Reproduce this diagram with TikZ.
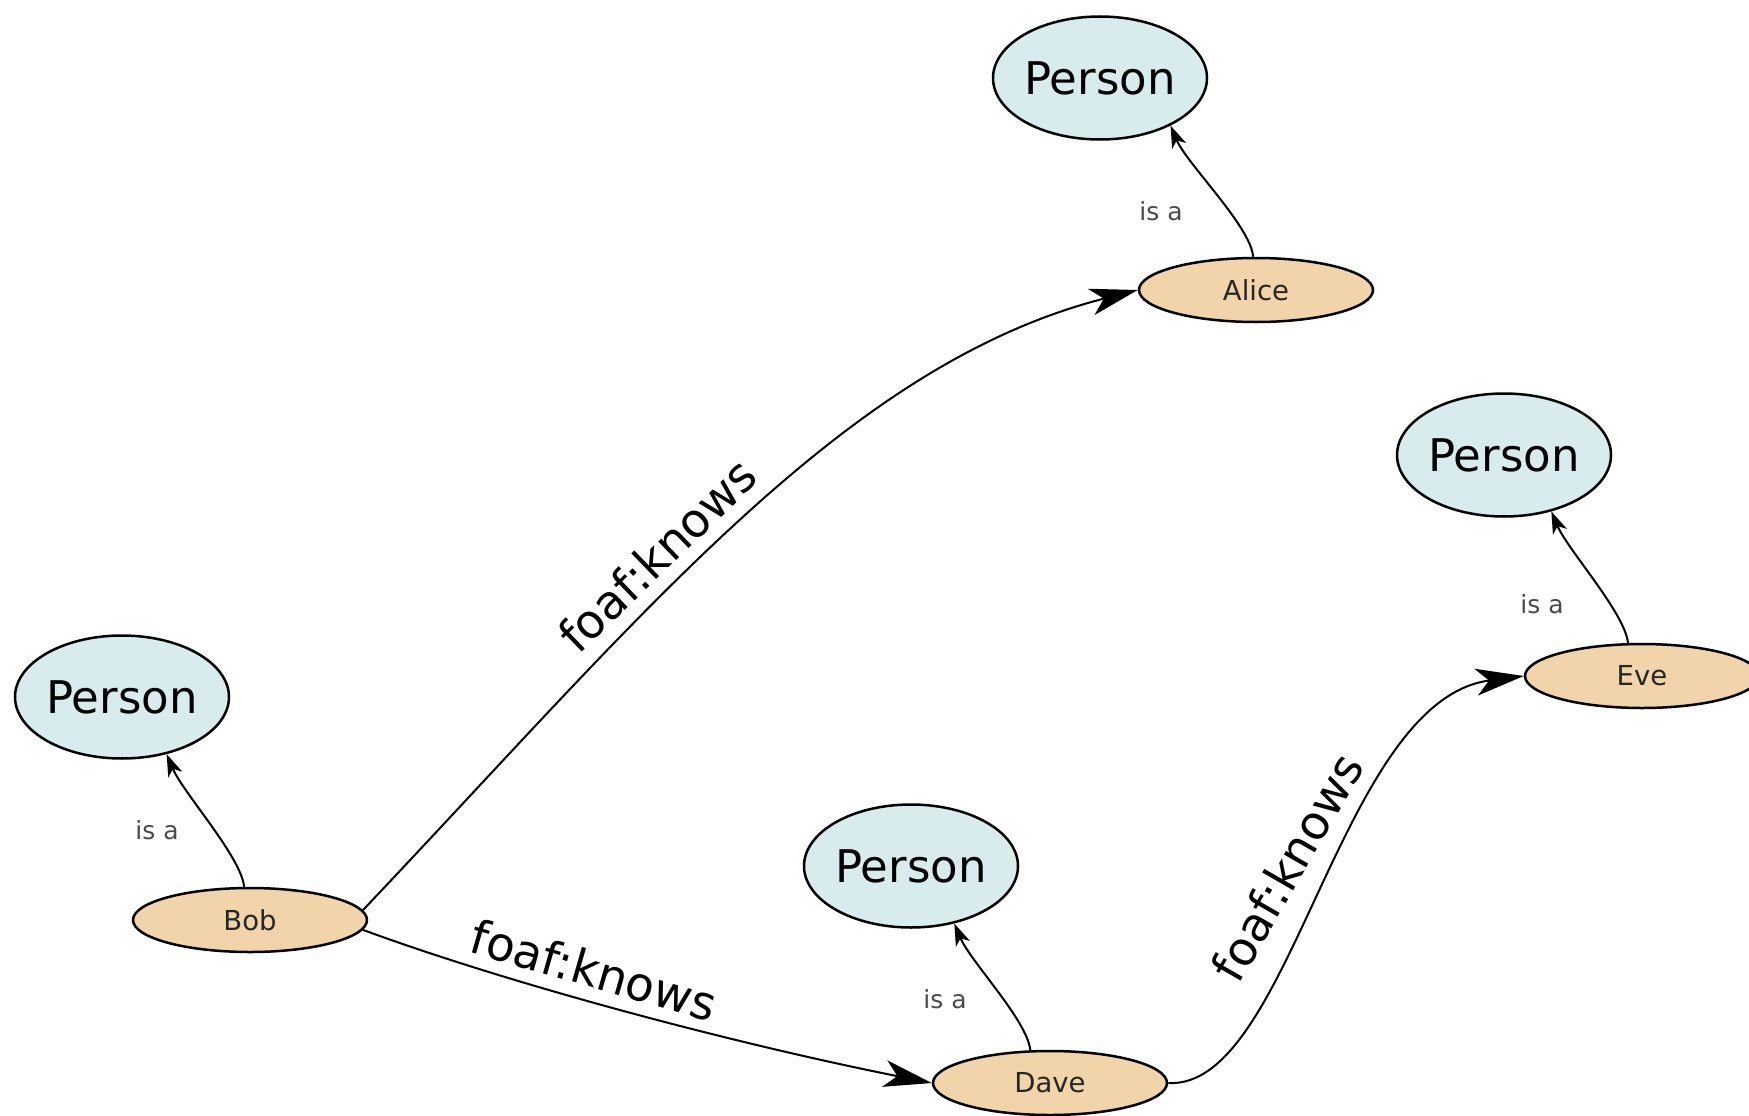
\documentclass[tikz,border=0pt]{standalone}
\usepackage{fontspec}
\setmainfont{DejaVu Sans}
\usetikzlibrary{shapes.geometric,arrows.meta}
\definecolor{classfill}{HTML}{D8ECEE}
\definecolor{indfill}{HTML}{F1D4AA}
\definecolor{isagray}{HTML}{4A4A4A}
\begin{document}
\begin{tikzpicture}[x=1pt,y=-1pt,
  classnode/.style={ellipse, draw=black, line width=2.5pt, fill=classfill,
    inner sep=0pt, minimum width=214pt, minimum height=123pt,
    font=\fontsize{45}{54}\selectfont},
  indnode/.style={ellipse, draw=black, line width=2.5pt, fill=indfill,
    inner sep=0pt, minimum width=234pt, minimum height=64pt,
    font=\fontsize{27.5}{33}\selectfont, text=black!85},
  isa/.style={line width=2pt, -{Stealth[length=22pt,width=15pt,inset=6pt]}},
  knows/.style={line width=2pt, -{Stealth[length=48pt,width=27pt,inset=13pt]}},
  isalabel/.style={font=\fontsize{25}{30}\selectfont, text=isagray, inner sep=0pt},
  knowslabel/.style={font=\fontsize{47}{56}\selectfont, inner sep=0pt},
]
\useasboundingbox (0,0) rectangle (1749,1116);
\fill[white] (0,0) rectangle (1749,1116);

% class nodes
\node[classnode] (pa) at (1100,78) {Person};
\node[classnode] (pb) at (122,697) {Person};
\node[classnode] (pd) at (911,866) {Person};
\node[classnode] (pe) at (1504,455) {Person};

% individuals
\node[indnode] (alice) at (1256,290) {Alice};
\node[indnode] (bob)   at (250,920)  {Bob};
\node[indnode] (dave)  at (1050,1083) {Dave};
\node[indnode] (eve)   at (1642,676) {Eve};

% rdf:type links
\draw[isa] (alice.95) .. controls +(-2,-30) and +(16,38) .. (pa.-34);
\draw[isa] (bob.100) .. controls +(-3,-30) and +(16,38) .. (pb.-52);
\draw[isa] (dave.121) .. controls +(-3,-30) and +(16,38) .. (pd.-53);
\draw[isa] (eve.113) .. controls +(-3,-30) and +(16,38) .. (pe.-50);

\node[isalabel] (isaA) at (1161,211) {is a};
\node[isalabel] (isaB) at (157,830) {is a};
\node[isalabel] (isaD) at (945,999) {is a};
\node[isalabel] (isaE) at (1542,604) {is a};

% foaf:knows links
\draw[knows] (bob.5) .. controls +(277,-292) and +(-294,75) .. (alice.west);
\draw[knows] (bob.-5) .. controls +(150,55) and +(-200,-40) .. (dave.west);
\draw[knows] (dave.east) .. controls +(123,7) and +(-185,24) .. (eve.west);

\node[knowslabel, rotate=44] (kBA) at (657,555) {foaf:knows};
\node[knowslabel, rotate=-16] (kBD) at (594,970) {foaf:knows};
\node[knowslabel, rotate=60] (kDE) at (1287,867) {foaf:knows};
\end{tikzpicture}
\end{document}
